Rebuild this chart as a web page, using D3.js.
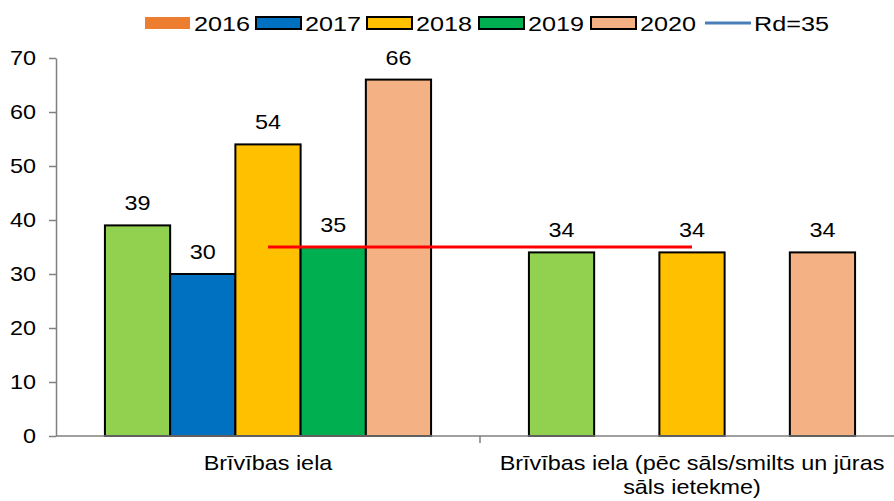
<!DOCTYPE html>
<html>
<head>
<meta charset="utf-8">
<script src="https://cdn.jsdelivr.net/npm/d3@7"></script>
<style>
  html, body { margin: 0; padding: 0; background: #fff; }
  svg { display: block; font-family: "Liberation Sans", Arial, sans-serif; }
</style>
</head>
<body>
<svg id="chart" width="894" height="501"></svg>
<script>
const categories = ["Brīvības iela", "Brīvības iela (pēc sāls/smilts un jūras|sāls ietekme)"];
const seriesNames = ["2016", "2017", "2018", "2019", "2020"];
const values2016 = [39, 34];
const values2017 = [30, null];
const values2018 = [54, 34];
const values2019 = [35, null];
const values2020 = [66, 34];
const rdName = "Rd=35";
const rdValues = [35, 35];
const yTicks = [0, 10, 20, 30, 40, 50, 60, 70];
const barFills = ["#92D050", "#0070C0", "#FFC000", "#00B050", "#F4B183"];
const legendFills = ["#ED7D31", "#0070C0", "#FFC000", "#00B050", "#F4B183"];

const seriesValues = [values2016, values2017, values2018, values2019, values2020];

const svg = d3.select("#chart");
const mLeft = 56, mRight = 904, mTop = 58, mBottom = 436;
const SX = 1.17;   // horizontal stretch of text
const FS = 20;

function stretchedText(parent, x, yPos, str, anchor, fs, sx) {
  return parent.append("text")
    .attr("transform", `translate(${x},${yPos}) scale(${sx},1)`)
    .attr("text-anchor", anchor)
    .attr("font-size", fs)
    .attr("fill", "#000")
    .text(str);
}

const x0 = d3.scaleBand().domain(categories).range([mLeft, mRight]).padding(0);
// Excel gap width 150%: outer padding = 0.75 bar widths each side
const bw = x0.bandwidth() / (seriesNames.length + 1.5);
const x1 = d3.scaleBand().domain(seriesNames)
  .range([0.75 * bw, 0.75 * bw + bw * seriesNames.length]).padding(0);

const y = d3.scaleLinear().domain([0, 70]).range([mBottom, mTop]);

const g = svg.append("g");

// bars
seriesNames.forEach((s, si) => {
  categories.forEach((c, ci) => {
    const v = seriesValues[si][ci];
    if (v == null) return;
    g.append("rect")
      .attr("x", x0(c) + x1(s))
      .attr("y", y(v))
      .attr("width", x1.bandwidth())
      .attr("height", y(0) - y(v))
      .attr("fill", barFills[si])
      .attr("stroke", "#000")
      .attr("stroke-width", 2);
    stretchedText(g, x0(c) + x1(s) + x1.bandwidth() / 2, y(v) - 15, v, "middle", FS, SX);
  });
});

// Rd line
const line = d3.line()
  .x((d, i) => x0(categories[i]) + x0.bandwidth() / 2)
  .y(d => y(d));
g.append("path")
  .datum(rdValues)
  .attr("d", line)
  .attr("fill", "none")
  .attr("stroke", "#FF0000")
  .attr("stroke-width", 3);

// y axis
const yAxis = d3.axisLeft(y).tickValues(yTicks).tickSize(7).tickSizeOuter(0).tickPadding(13);
const ya = svg.append("g").attr("transform", `translate(${mLeft},0)`).call(yAxis);
ya.select(".domain").attr("stroke", "#808080").attr("stroke-width", 1.5);
ya.selectAll(".tick line").attr("stroke", "#808080").attr("stroke-width", 1.5);
ya.selectAll(".tick text")
  .attr("font-size", FS).attr("fill", "#000")
  .attr("font-family", "Liberation Sans, Arial, sans-serif")
  .attr("x", -20 / SX)
  .attr("transform", `scale(${SX},1)`);

// x axis
const xa = svg.append("g").attr("transform", `translate(0,${mBottom})`);
xa.append("line").attr("x1", mLeft).attr("x2", mRight).attr("y1", 0).attr("y2", 0)
  .attr("stroke", "#808080").attr("stroke-width", 1.5);
categories.forEach((c, i) => {
  if (i > 0) {
    xa.append("line").attr("x1", x0(c)).attr("x2", x0(c)).attr("y1", 0).attr("y2", 7)
      .attr("stroke", "#808080").attr("stroke-width", 1.5);
  }
  const lines = c.split("|");
  const cx = x0(c) + x0.bandwidth() / 2;
  lines.forEach((l, li) => {
    stretchedText(xa, cx, 34 + li * 24, l, "middle", FS, SX);
  });
});

// legend
const legendItems = seriesNames.map((s, i) => ({name: s, type: "rect", fill: legendFills[i], border: i > 0}))
  .concat([{name: rdName, type: "line", fill: "#4A7EBB"}]);
const legendX = [145, 256, 367, 479, 591, 705];
const lg = svg.append("g");
legendItems.forEach((d, i) => {
  const gx = legendX[i];
  if (d.type === "rect") {
    lg.append("rect").attr("x", gx).attr("y", 17).attr("width", 45).attr("height", 12)
      .attr("fill", d.fill)
      .attr("stroke", d.border ? "#000" : "none").attr("stroke-width", 2);
  } else {
    lg.append("line").attr("x1", gx).attr("x2", gx + 46).attr("y1", 23).attr("y2", 23)
      .attr("stroke", d.fill).attr("stroke-width", 3);
  }
  stretchedText(lg, gx + 49, 31, d.name, "start", 21, 1.2);
});
</script>
</body>
</html>
